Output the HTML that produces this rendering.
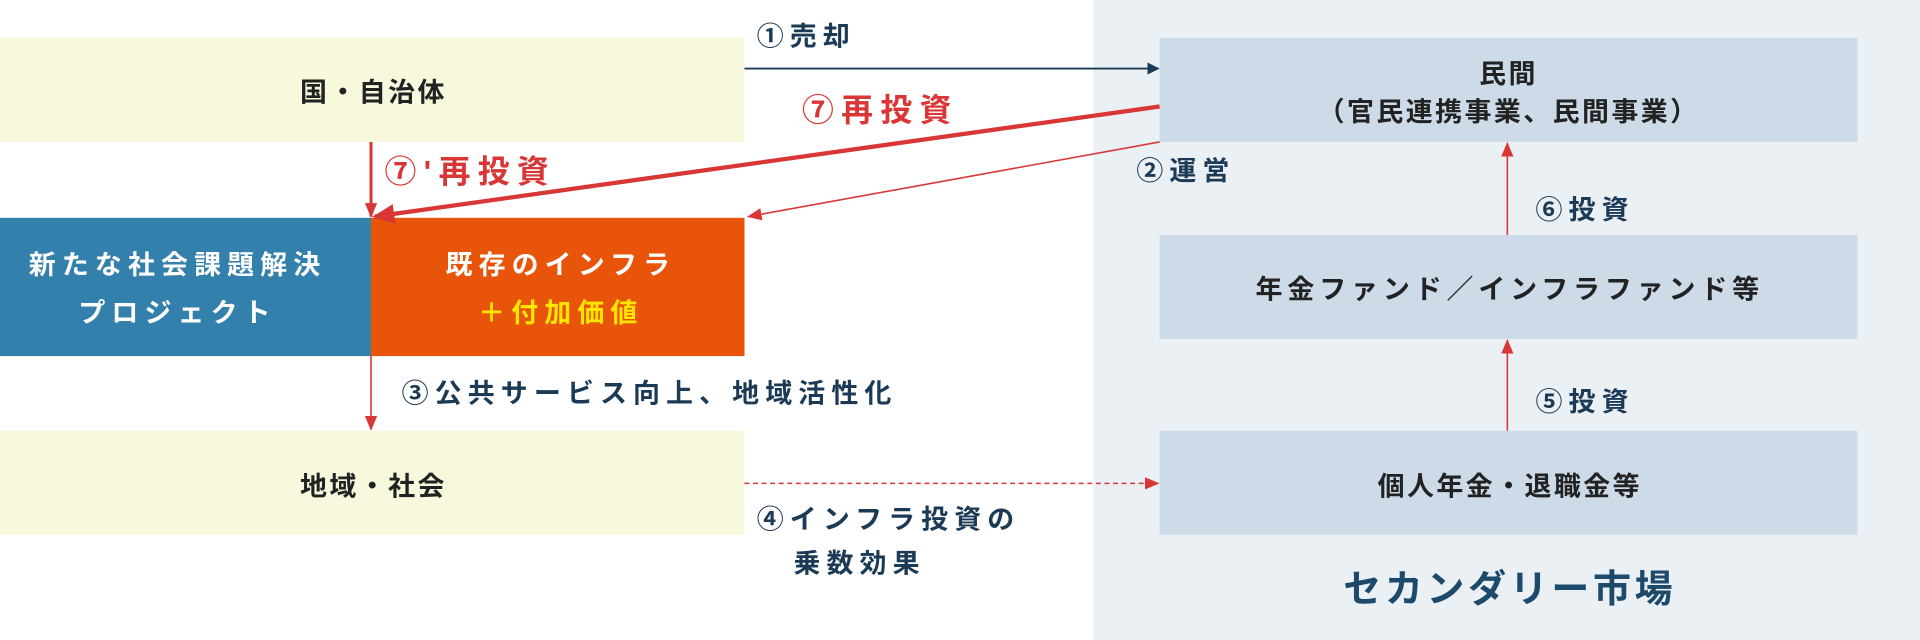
<!DOCTYPE html>
<html><head><meta charset="utf-8"><style>
html,body{margin:0;padding:0;background:#fff;}
svg{display:block;}
text{font-family:"Liberation Sans","Noto Sans CJK JP",sans-serif;font-weight:bold;}
</style></head><body>
<svg width="1920" height="640" viewBox="0 0 1568 523" preserveAspectRatio="none" xmlns="http://www.w3.org/2000/svg">
<defs>
<marker id="an" markerWidth="10" markerHeight="10" refX="9" refY="5" orient="auto" markerUnits="userSpaceOnUse"><path d="M0,0 L10,5 L0,10 z" fill="#1b3a55"/></marker>
<marker id="ar" markerWidth="12" markerHeight="12" refX="11" refY="6" orient="auto" markerUnits="userSpaceOnUse"><path d="M0,1 L12,6 L0,11 z" fill="#d93636"/></marker>
<marker id="arb" markerWidth="18" markerHeight="16" refX="16" refY="8" orient="auto" markerUnits="userSpaceOnUse"><path d="M0,0 L18,8 L0,16 z" fill="#d93636"/></marker>
</defs>
<rect x="0" y="0" width="1568" height="523" fill="#fff"/>
<rect x="893" y="0" width="675" height="523" fill="#ebf0f5"/>
<rect x="0" y="31" width="608" height="85" fill="#f7f8dc"/>
<rect x="0" y="352" width="608" height="85" fill="#f7f8dc"/>
<rect x="0" y="178" width="303" height="113" fill="#3380ad"/>
<rect x="303" y="178" width="305" height="113" fill="#e8540a"/>
<rect x="947" y="31" width="570" height="85" fill="#cddbe8"/>
<rect x="947" y="192" width="570" height="85" fill="#cddbe8"/>
<rect x="947" y="352" width="570" height="85" fill="#cddbe8"/>

<line x1="608" y1="56" x2="946" y2="56" stroke="#1b3a55" stroke-width="1.5" marker-end="url(#an)"/>
<line x1="947" y1="87" x2="306" y2="177" stroke="#d93636" stroke-width="3.5" marker-end="url(#arb)"/>
<line x1="947" y1="116" x2="611" y2="177" stroke="#d93636" stroke-width="1.3" marker-end="url(#ar)"/>
<line x1="303" y1="116" x2="303" y2="177" stroke="#d93636" stroke-width="2.5" marker-end="url(#ar)"/>
<line x1="303" y1="291" x2="303" y2="351" stroke="#d93636" stroke-width="1.3" marker-end="url(#ar)"/>
<line x1="608" y1="395" x2="946" y2="395" stroke="#d93636" stroke-width="1.3" stroke-dasharray="4,3" marker-end="url(#ar)"/>
<line x1="1231" y1="192" x2="1231" y2="117" stroke="#d93636" stroke-width="1.3" marker-end="url(#ar)"/>
<line x1="1231" y1="352" x2="1231" y2="278" stroke="#d93636" stroke-width="1.3" marker-end="url(#ar)"/>

<g font-size="22" fill="#222" text-anchor="middle" letter-spacing="2">
<text x="305" y="83">国・自治体</text>
<text x="305" y="405">地域・社会</text>
<text x="1232" y="68">民間</text>
<text x="1232" y="99">（官民連携事業、民間事業）</text>
<text x="1233" y="244" letter-spacing="4">年金ファンド／インフラファンド等</text>
<text x="1233" y="405">個人年金・退職金等</text>
</g>
<g font-size="22" text-anchor="middle" letter-spacing="5">
<text x="145" y="224" fill="#fff">新たな社会課題解決</text>
<text x="145" y="263" fill="#fff">プロジェクト</text>
<text x="458" y="224" fill="#fff">既存のインフラ</text>
<text x="458" y="263" fill="#ffe600">＋付加価値</text>
</g>
<g font-size="22" fill="#1b3a55" letter-spacing="5">
<text x="618" y="37">①売却</text>
<text x="928" y="147">②運営</text>
<text x="328" y="329">③公共サービス向上、地域活性化</text>
<text x="618" y="432">④インフラ投資の</text>
<text x="648" y="468">乗数効果</text>
<text x="1254" y="179">⑥投資</text>
<text x="1254" y="336">⑤投資</text>
</g>
<g font-size="26" fill="#d93636" letter-spacing="6">
<text x="655" y="99">⑦再投資</text>
<text x="314" y="149">⑦'再投資</text>
</g>
<text x="1233" y="492" font-size="31" fill="#1d4a6a" text-anchor="middle" letter-spacing="3">セカンダリー市場</text>
</svg>
</body></html>
